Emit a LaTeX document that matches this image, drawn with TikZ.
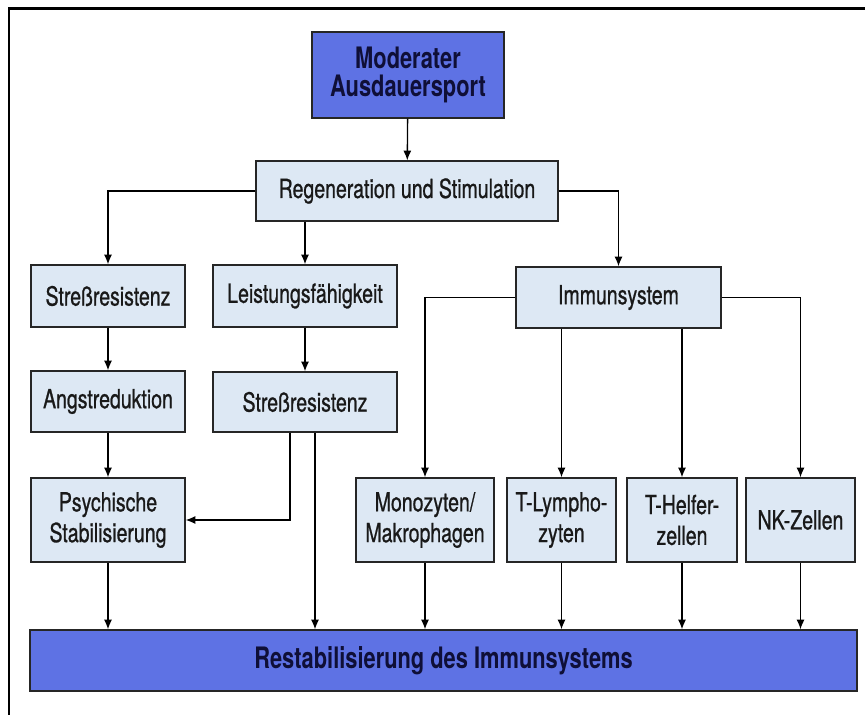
\documentclass[tikz,border=0pt]{standalone}
\usepackage{fontspec}
\setmainfont{TeX Gyre Heros}[FakeStretch=0.74]
\newfontfamily\boxfont{TeX Gyre Heros}[FakeStretch=0.74, FakeBold=0.8]
\usetikzlibrary{arrows.meta}

\definecolor{darkfill}{RGB}{94,114,228}
\definecolor{lightfill}{RGB}{221,232,244}
\definecolor{navytext}{RGB}{15,15,55}

\tikzset{
  box/.style={rectangle, draw=black!85, line width=0.8pt, fill=lightfill, align=center,
    inner sep=0pt, text=black!90, font=\boxfont\fontsize{15}{17.5}\selectfont},
  darkbox/.style={box, fill=darkfill, text=navytext, font=\fontsize{16.8}{16}\selectfont\bfseries},
  arr/.style={-{Latex[length=5.5pt,width=4.6pt]}, line width=0.75pt}
}

\begin{document}
\begin{tikzpicture}
    \useasboundingbox (0, 0) rectangle (17.3, -14.3);
    \draw[line width=1.7pt] (0.18, -14.3) -- (0.18, -0.18) -- (17.3, -0.18);

    % 箱を置く
    \node[darkbox, minimum width=3.84cm, minimum height=1.72cm] (M) at (8.16, -1.50) {Moderater\\Ausdauersport};
    \node[box, minimum width=6.04cm, minimum height=1.2cm] (R) at (8.14, -3.82) {Regeneration und Stimulation};

    \node[box, minimum width=3.08cm, minimum height=1.24cm] (S1) at (2.16, -5.92) {Streßresistenz};
    \node[box, minimum width=3.68cm, minimum height=1.24cm] (L) at (6.10, -5.92) {Leistungsfähigkeit};
    \node[box, minimum width=4.10cm, minimum height=1.22cm] (I) at (12.37, -5.95) {Immunsystem};

    \node[box, minimum width=3.08cm, minimum height=1.22cm] (A) at (2.16, -8.03) {Angstreduktion};
    \node[box, minimum width=3.68cm, minimum height=1.20cm] (S2) at (6.10, -8.04) {Streßresistenz};

    \node[box, minimum width=3.08cm, minimum height=1.68cm] (P) at (2.16, -10.40) {Psychische\\Stabilisierung};
    \node[box, minimum width=2.76cm, minimum height=1.68cm] (MO) at (8.50, -10.40) {Monozyten/\\Makrophagen};
    \node[box, minimum width=2.18cm, minimum height=1.68cm] (TL) at (11.23, -10.40) {T-Lympho-\\zyten};
    \node[box, minimum width=2.20cm, minimum height=1.68cm] (TH) at (13.64, -10.40) {T-Helfer-\\zellen};
    \node[box, minimum width=2.18cm, minimum height=1.68cm] (NK) at (16.01, -10.40) {NK-Zellen};

    \node[darkbox, minimum width=16.54cm, minimum height=1.22cm] (B) at (8.87, -13.21) {Restabilisierung des Immunsystems};

    % 線を引く
    \draw[arr] (M) -- (R);
    \draw[arr] (R.west) -| (S1.north);
    \draw[arr] (R.south -| L.north) -- (L.north);
    \draw[arr] (R.east) -| (I.north);

    \draw[arr] (S1) -- (A);
    \draw[arr] (A) -- (P);
    \draw[arr] (L) -- (S2);
    \draw[arr] ([xshift=-0.3cm]S2.south) |- (P.east);
    \draw[arr] ([xshift=0.2cm]S2.south) -- ([xshift=0.2cm]S2.south |- B.north);

    \draw[arr] (I.west) -| (MO.north);
    \draw[arr] (I.south -| TL.north) -- (TL.north);
    \draw[arr] (I.south -| TH.north) -- (TH.north);
    \draw[arr] (I.east) -| (NK.north);

    % 下の帯へ
    \draw[arr] (P.south) -- (P.south |- B.north);
    \draw[arr] (MO.south) -- (MO.south |- B.north);
    \draw[arr] (TL.south) -- (TL.south |- B.north);
    \draw[arr] (TH.south) -- (TH.south |- B.north);
    \draw[arr] (NK.south) -- (NK.south |- B.north);

\end{tikzpicture}
\end{document}
